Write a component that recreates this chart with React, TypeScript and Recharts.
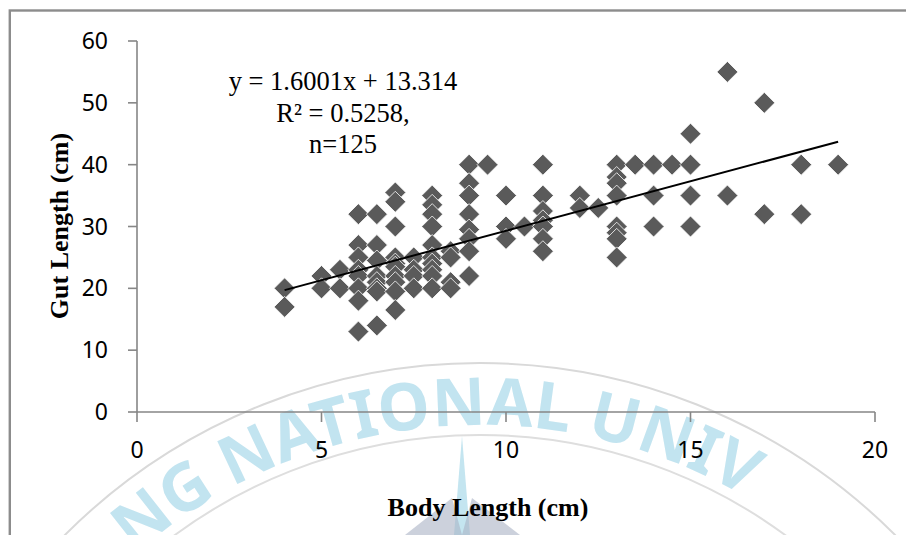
import { Label, Scatter, ScatterChart, XAxis, YAxis } from "recharts";

// body length (cm) columns and the gut lengths (cm) measured at each
const bodyLengths = [4, 5, 5.5, 6, 6.5, 7, 7.5, 8, 8.5, 9, 9.5, 10, 10.5, 11, 12, 12.5, 13, 13.5, 14, 14.5, 15, 16, 17, 18, 19];
const gutLengths = [
  [20, 17],
  [22, 20],
  [23, 20],
  [32, 27, 25, 23, 22, 20, 18, 13],
  [32, 27, 24.5, 22, 21, 20, 19.5, 14],
  [35.5, 34, 30, 25, 24, 23.5, 22, 21, 19.5, 16.5],
  [25, 23, 22, 20],
  [35, 33.5, 32, 30, 27, 25, 24, 23, 22, 20],
  [26, 25, 21, 20],
  [40, 37, 35, 32, 29.5, 28, 26, 22],
  [40],
  [35, 30, 28],
  [30],
  [40, 35, 32.5, 31, 30, 28, 26],
  [35, 33],
  [33],
  [40, 38, 37, 35, 30, 29, 28, 25],
  [40],
  [40, 35, 30],
  [40],
  [45, 40, 35, 30],
  [55, 35],
  [50, 32],
  [40, 32],
  [40],
];

const slope = 1.6001;
const intercept = 13.314;
const equationLines = ["y = 1.6001x + 13.314", "R\u00B2 = 0.5258,", "n=125"];

const xTicks = [0, 5, 10, 15, 20];
const yTicks = [0, 10, 20, 30, 40, 50, 60];

const points = bodyLengths.flatMap((x, i) => gutLengths[i].map((y) => ({ x, y })));
const fitRange = [Math.min(...bodyLengths), Math.max(...bodyLengths)];
const trend = fitRange.map((x) => ({ x, y: slope * x + intercept }));

const AXIS = "#868686";
const MARK = "#5a5a5a";
const tickFont = { fill: "#000", fontSize: 23, fontFamily: "'Noto Sans', sans-serif" };

function Diamond(props: any) {
  const { cx, cy } = props;
  const r = 10.5;
  return (
    <polygon
      points={`${cx},${cy - r} ${cx + r},${cy} ${cx},${cy + r} ${cx - r},${cy}`}
      fill={MARK}
      stroke="#ffffff"
      strokeWidth={0.8}
    />
  );
}

// faint seal watermark that sits behind the chart in the source scan
function Watermark() {
  return (
    <svg width={906} height={535} style={{ position: "absolute", left: 0, top: 0 }}>
      <defs>
        <path id="wm-arc" d="M -45 950 A 525 525 0 0 1 1005 950" />
      </defs>
      <circle cx={480} cy={950} r={587} fill="none" stroke="#d9d9d9" strokeWidth={2} />
      <circle cx={480} cy={950} r={515} fill="none" stroke="#dedede" strokeWidth={2} />
      <polygon points="462,436 454,535 470,535" fill="#c4e5f0" />
      <polygon points="405,535 452,498 462,535" fill="#aab2c4" opacity={0.6} />
      <polygon points="520,535 472,498 462,535" fill="#aab2c4" opacity={0.6} />
      <text fontFamily="'Noto Sans', sans-serif" fontWeight={700} fontSize={66} fill="#a9d9ea" opacity={0.7}>
        <textPath href="#wm-arc" startOffset={448}>
          NG NATIONAL UNIV
        </textPath>
      </text>
    </svg>
  );
}

export default function App() {
  return (
    <div style={{ position: "absolute", left: 0, top: 0, width: 906, height: 535, background: "#fff", overflow: "hidden" }}>
      <Watermark />
      <div style={{ position: "absolute", left: 0, top: 0 }}>
        <ScatterChart width={906} height={535} margin={{ top: 41, right: 31, bottom: 13, left: 37 }}>
          <XAxis
            type="number"
            dataKey="x"
            domain={[0, 20]}
            ticks={xTicks}
            interval={0}
            height={110}
            tickSize={10}
            tickMargin={20}
            stroke={AXIS}
            strokeWidth={1.6}
            tick={tickFont}
          >
            <Label
              content={() => (
                <text x={488} y={516} textAnchor="middle" fontFamily="'Liberation Serif', serif" fontWeight={700} fontSize={26} fill="#000">
                  Body Length (cm)
                </text>
              )}
            />
          </XAxis>
          <YAxis
            type="number"
            dataKey="y"
            domain={[0, 60]}
            ticks={yTicks}
            interval={0}
            width={100}
            tickSize={9}
            tickMargin={20}
            stroke={AXIS}
            strokeWidth={1.6}
            tick={tickFont}
          >
            <Label
              content={() => (
                <text
                  x={68}
                  y={226}
                  transform="rotate(-90 68 226)"
                  textAnchor="middle"
                  fontFamily="'Liberation Serif', serif"
                  fontWeight={700}
                  fontSize={26}
                  fill="#000"
                >
                  Gut Length (cm)
                </text>
              )}
            />
          </YAxis>
          <Scatter data={points} shape={Diamond} isAnimationActive={false} />
          <Scatter
            data={trend}
            line={{ stroke: "#000", strokeWidth: 2 }}
            shape={() => <g />}
            isAnimationActive={false}
          />
        </ScatterChart>
      </div>
      <svg width={906} height={535} style={{ position: "absolute", left: 0, top: 0, pointerEvents: "none" }}>
        <rect x={9.8} y={10.5} width={1000} height={1000} fill="none" stroke="#8c8c8c" strokeWidth={2.4} />
        {equationLines.map((line, i) => (
          <text
            key={line}
            x={343}
            y={90 + i * 31.5}
            textAnchor="middle"
            fontFamily="'Liberation Serif', serif"
            fontSize={26.5}
            fill="#000"
          >
            {line}
          </text>
        ))}
      </svg>
    </div>
  );
}
